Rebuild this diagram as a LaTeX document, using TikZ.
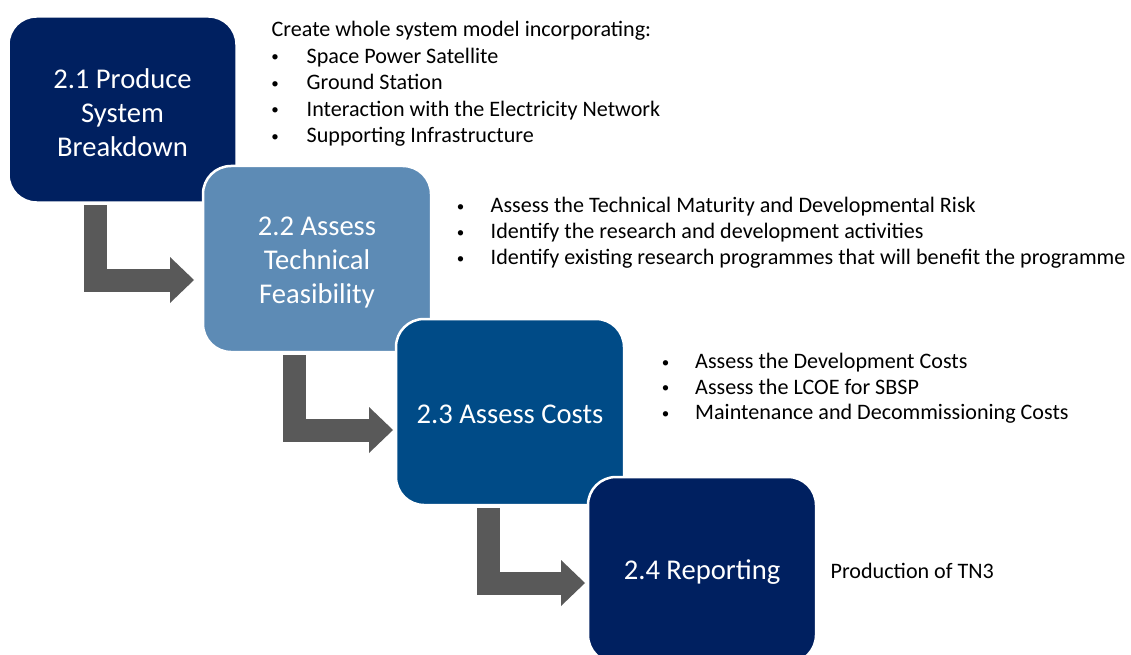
\documentclass[tikz,border=0pt]{standalone}
\usepackage{fontspec}
\setmainfont{Carlito}
\usetikzlibrary{arrows.meta,calc}
\definecolor{navy}{RGB}{0,32,96}
\definecolor{steel}{RGB}{93,139,181}
\definecolor{midblue}{RGB}{0,75,135}
\definecolor{arrowgray}{RGB}{89,89,89}
\tikzset{
  stepbox/.style={rounded corners=28pt, draw=white, line width=2.5pt,
    minimum width=228pt, minimum height=186pt, inner sep=0pt},
  boxtext/.style={text=white, align=center, inner sep=0pt,
    font=\fontsize{28.6}{34}\selectfont},
  bigarrow/.style={draw=arrowgray, line width=23pt,
    -{Triangle[length=24pt,width=46pt,line width=0pt]}},
  desc/.style={anchor=base west, inner sep=0pt, yshift=-2pt, font=\fontsize{22.1}{26}\selectfont},
  bul/.style={anchor=base, inner sep=0pt, font=\fontsize{15}{18}\selectfont, yshift=-0.5pt}
}
\begin{document}
\begin{tikzpicture}[x=1pt,y=-1pt]
\useasboundingbox (0,0) rectangle (1131,655);
\clip (0,0) rectangle (1131,655);
\fill[white] (0,0) rectangle (1131,655);

% box 1
\node[stepbox, fill=navy] (b1) at (122.5,109.5) {};
\node[boxtext] (b1t) at ($(b1.center)+(0,3.5)$) {2.1 Produce\\System\\Breakdown};
\coordinate (s1) at (95.5,205);
\coordinate (t1) at (194,280);
\draw[bigarrow] (s1) |- (t1);

% box 2
\node[stepbox, fill=steel] (b2) at (317,259) {};
\node[boxtext] (b2t) at ($(b2.center)+(0,3.5)$) {2.2 Assess\\Technical\\Feasibility};
\coordinate (s2) at (294.5,355);
\coordinate (t2) at (393,430);
\draw[bigarrow] (s2) |- (t2);

% box 3
\node[stepbox, fill=midblue] (b3) at (510,412) {};
\node[boxtext] (b3t) at ($(b3.center)+(0,2)$) {2.3 Assess Costs};
\coordinate (s3) at (488,508);
\coordinate (t3) at (585,583);
\draw[bigarrow] (s3) |- (t3);

% box 4
\node[stepbox, fill=navy] (b4) at (702,570) {};
\node[boxtext] (b4t) at ($(b4.center)+(0,2)$) {2.4 Reporting};

% descriptions block 1
\node[desc] (h1) at (271.5,35) {Create whole system model incorporating:};
\node[bul] (p11) at (275,61.5) {\textbullet};
\node[desc] (d11) at (306.5,61.5) {Space Power Satellite};
\node[bul] (p12) at (275,88) {\textbullet};
\node[desc] (d12) at (306.5,88) {Ground Station};
\node[bul] (p13) at (275,114.5) {\textbullet};
\node[desc] (d13) at (306.5,114.5) {Interaction with the Electricity Network};
\node[bul] (p14) at (275,141) {\textbullet};
\node[desc] (d14) at (306.5,141) {Supporting Infrastructure};

% block 2
\node[bul] (p21) at (460.5,210.7) {\textbullet};
\node[desc] (d21) at (490.5,210.7) {Assess the Technical Maturity and Developmental Risk};
\node[bul] (p22) at (460.5,236.7) {\textbullet};
\node[desc] (d22) at (490.5,236.7) {Identify the research and development activities};
\node[bul] (p23) at (460.5,262.7) {\textbullet};
\node[desc] (d23) at (490.5,262.7) {Identify existing research programmes that will benefit the programme};

% block 3
\node[bul] (p31) at (665.5,366.5) {\textbullet};
\node[desc] (d31) at (695,366.5) {Assess the Development Costs};
\node[bul] (p32) at (665.5,392) {\textbullet};
\node[desc] (d32) at (695,392) {Assess the LCOE for SBSP};
\node[bul] (p33) at (665.5,417.7) {\textbullet};
\node[desc] (d33) at (695,417.7) {Maintenance and Decommissioning Costs};

% block 4
\node[desc] (d41) at (830.5,576) {Production of TN3};
\end{tikzpicture}
\end{document}
